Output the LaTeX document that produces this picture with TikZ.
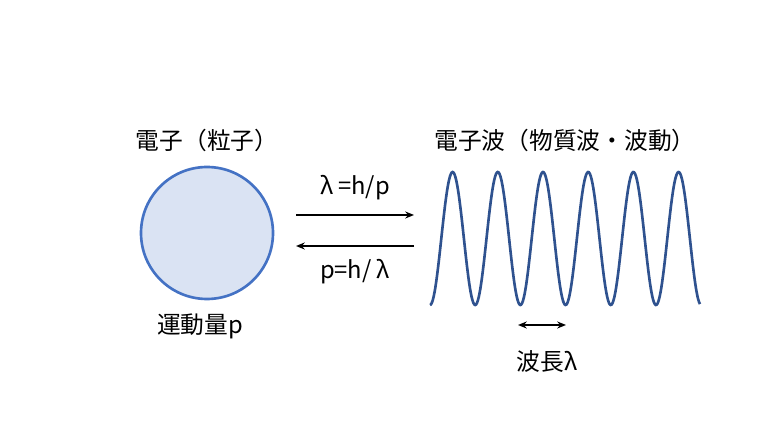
\documentclass[tikz,border=0pt]{standalone}
\usepackage{fontspec}
\setmainfont{Noto Sans CJK JP}
\definecolor{cfill}{RGB}{218,227,243}
\definecolor{cline}{RGB}{68,114,196}
\definecolor{wave}{RGB}{47,82,143}
\tikzset{lbl/.style={font=\fontsize{13.5}{16}\selectfont, inner sep=0pt},
 arr/.style={-{Stealth[length=5pt,width=4pt]}, line width=1pt}}
\usetikzlibrary{arrows.meta}
\begin{document}
\begin{tikzpicture}[x=0.02cm,y=-0.02cm]
\useasboundingbox (0,0) rectangle (768,432);
\node[circle, minimum size=132*0.02cm, fill=cfill, draw=cline, line width=1.5pt, inner sep=0] (c) at (207,233) {};
\node[lbl] (t1) at (207,140) {電子（粒子）};
\node[lbl] (t2) at (200,326) {運動量p};
\node[lbl] (t3) at (565,140) {電子波（物質波・波動）};
\coordinate (a1) at (296,215); \coordinate (b1) at (414,215);
\coordinate (a2) at (414,246); \coordinate (b2) at (296,246);
\draw[arr] (a1) -- (b1);
\draw[arr] (a2) -- (b2);
\node[lbl] (l1) at (355,188) {λ =h/p};
\node[lbl] (l2) at (355,272) {p=h/ λ};
\draw[wave, line width=1.5pt, shift={(430,0)}] plot[domain=0:270, samples=300, smooth] (\x,{238.5+66.5*cos(7.9646*\x)});
\coordinate (d1) at (518,325); \coordinate (d2) at (566,325);
\draw[{Stealth[length=5pt,width=4pt]}-{Stealth[length=5pt,width=4pt]}, line width=1pt] (d1) -- (d2);
\node[lbl] (l3) at (547,362) {波長λ};
\end{tikzpicture}
\end{document}
